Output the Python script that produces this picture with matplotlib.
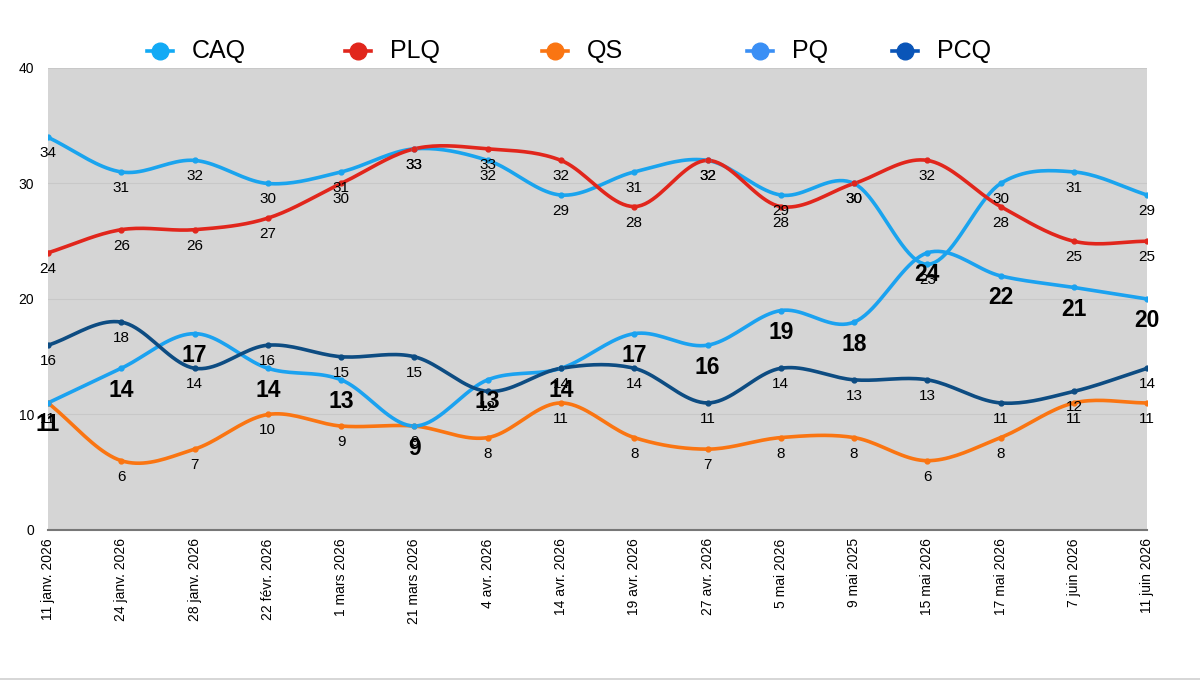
import matplotlib
matplotlib.use('Agg')
import matplotlib.pyplot as plt
import numpy as np
from matplotlib.lines import Line2D

plt.rcParams['font.family'] = ['Liberation Sans', 'DejaVu Sans']

dates = ['11 janv. 2026', '24 janv. 2026', '28 janv. 2026', '22 févr. 2026',
         '1 mars 2026', '21 mars 2026', '4 avr. 2026', '14 avr. 2026',
         '19 avr. 2026', '27 avr. 2026', '5 mai 2026', '9 mai 2025',
         '15 mai 2026', '17 mai 2026', '7 juin 2026', '11 juin 2026']

caq = [34, 31, 32, 30, 31, 33, 32, 29, 31, 32, 29, 30, 23, 30, 31, 29]
plq = [24, 26, 26, 27, 30, 33, 33, 32, 28, 32, 28, 30, 32, 28, 25, 25]
qs = [11, 6, 7, 10, 9, 9, 8, 11, 8, 7, 8, 8, 6, 8, 11, 11]
pq = [11, 14, 17, 14, 13, 9, 13, 14, 17, 16, 19, 18, 24, 22, 21, 20]
pcq = [16, 18, 14, 16, 15, 15, 12, 14, 14, 11, 14, 13, 13, 11, 12, 14]

parties = ['CAQ', 'PLQ', 'QS', 'PQ', 'PCQ']
colors = ['#1aa4ee', '#e1261c', '#fa7512', '#1ba2f0', '#0d4c82']
legend_colors = ['#12aaf5', '#e1261c', '#fa7512', '#3a8ff5', '#0a55b8']
# legend entry positions (figure pixels from left)
legend_x = [160, 358, 555, 760, 905]


def smooth(y, n=20):
    # Catmull-Rom through the points, uniform x spacing
    y = np.asarray(y, dtype=float)
    p = np.concatenate([[2 * y[0] - y[1]], y, [2 * y[-1] - y[-2]]])
    xs, ys = [], []
    t = np.linspace(0, 1, n, endpoint=False)
    for i in range(len(y) - 1):
        p0, p1, p2, p3 = p[i], p[i + 1], p[i + 2], p[i + 3]
        m1 = (p2 - p0) / 2
        m2 = (p3 - p1) / 2
        h00 = 2 * t**3 - 3 * t**2 + 1
        h10 = t**3 - 2 * t**2 + t
        h01 = -2 * t**3 + 3 * t**2
        h11 = t**3 - t**2
        xs.append(i + t)
        ys.append(h00 * p1 + h10 * m1 + h01 * p2 + h11 * m2)
    xs.append([len(y) - 1])
    ys.append([y[-1]])
    return np.concatenate(xs), np.concatenate(ys)


W, H = 1200, 682
fig = plt.figure(figsize=(W / 100, H / 100), dpi=100)
ax = fig.add_axes([0.04, 0.2229, 0.916, 0.6774])
ax.set_facecolor('#d5d5d5')

x = np.arange(len(dates))
series = [caq, plq, qs, pq, pcq]
for vals, col in zip(series, colors):
    sx, sy = smooth(vals)
    ax.plot(sx, sy, color=col, lw=2.6, solid_capstyle='round', zorder=3)
    ax.plot(x, vals, 'o', color=col, ms=3.5, zorder=4)

for vals, name in zip(series, parties):
    bold = name == 'PQ'
    for xi, v in zip(x, vals):
        ax.annotate(f'{v}', (xi, v), xytext=(0, -22 if bold else -16),
                    textcoords='offset pixels', ha='center', va='center',
                    fontsize=16.5 if bold else 11,
                    fontweight='bold' if bold else 'normal',
                    color='black', zorder=5)

ax.set_xlim(0, len(dates) - 1)
ax.set_ylim(0, 40)
ax.set_yticks([0, 10, 20, 30, 40])
ax.set_xticks(x)
ax.set_xticklabels(dates, rotation=90, fontsize=10)
ax.tick_params(axis='both', length=0, labelsize=10)
ax.tick_params(axis='y', pad=10)
ax.tick_params(axis='x', pad=6)
ax.grid(axis='y', color='#c8c8c8', lw=0.8)
ax.set_axisbelow(True)
for side in ['top', 'right', 'left']:
    ax.spines[side].set_visible(False)
ax.spines['bottom'].set_color('#777777')
ax.spines['bottom'].set_linewidth(1.5)

# legend drawn by hand to keep the uneven spacing of the original
ly = 1 - 51 / H
for px, name, col in zip(legend_x, parties, legend_colors):
    fig.add_artist(Line2D([(px - 13) / W, (px + 13) / W], [ly, ly],
                          color=col, lw=2.6))
    fig.add_artist(Line2D([px / W], [ly], marker='o', ms=12,
                          color=col, markeredgecolor=col))
    fig.text((px + 32) / W, ly, name, fontsize=18, ha='left', va='center')

fig.add_artist(Line2D([0, 1], [0.004, 0.004], color='#d0d0d0', lw=1.2))

fig.savefig('out.png', dpi=100)
plt.close(fig)
